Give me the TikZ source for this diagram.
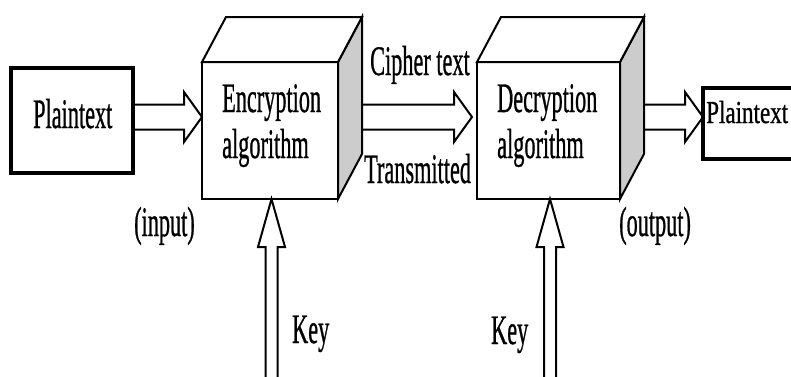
\documentclass[tikz,border=0pt]{standalone}
\usepackage{fontspec}
\setmainfont[FakeBold=1]{Liberation Serif}
\usetikzlibrary{calc}
% condensed text
\newcommand\narrow[2][0.53]{\scalebox{#1}[1]{#2}}
% hollow block arrow, horizontal: #1 tail, #2 tip
\newcommand\blockarrow[2]{%
  \draw[hollow] ($(#1)+(0,12.5)$) -- ($(#2)+(-18,12.5)$) -- ($(#2)+(-18,25)$) -- (#2)
    -- ($(#2)+(-18,-25)$) -- ($(#2)+(-18,-12.5)$) -- ($(#1)+(0,-12.5)$);}
% hollow block arrow, vertical (pointing up): #1 tip, #2 tail
\newcommand\keyarrow[2]{%
  \draw[hollow] ($(#2)+(-6,0)$) -- ($(#1)+(-6,48)$) -- ($(#1)+(-13.5,48)$) -- (#1)
    -- ($(#1)+(13.5,48)$) -- ($(#1)+(6,48)$) -- ($(#2)+(6,0)$);}
\begin{document}
\begin{tikzpicture}[x=1bp,y=-1bp,line join=miter,
  face/.style={draw, line width=2bp, fill=white, inner sep=0pt, outer sep=0pt,
    minimum width=136bp, minimum height=137bp},
  side/.style={draw, line width=2bp, fill=#1},
  ptbox/.style={draw, line width=3.5bp, inner sep=0pt, outer sep=0pt},
  lbl/.style={inner sep=0pt, anchor=base west, font=\fontsize{42bp}{46bp}\selectfont},
  hollow/.style={draw, line width=2bp}]
\useasboundingbox (0,0) rectangle (791,376);
\clip (0,0) rectangle (791,376);

% boxes
\node[ptbox, minimum width=122bp, minimum height=105bp] (src) at (72,120.5) {};
\node[face] (enc) at (270,130.5) {};
\node[face, minimum width=143bp] (dec) at (548.5,130.5) {};
\node[ptbox, minimum width=117bp, minimum height=71bp] (dst) at (761.5,123.5) {};

% cube sides
\draw[side=gray!40] (enc.north east) -- ++(24,-45) -- ++(0,137) -- (enc.south east) -- cycle;
\draw[side=white] (enc.north west) -- ++(24,-45) -- ++(136,0) -- (enc.north east) -- cycle;
\draw[side=gray!40] (dec.north east) -- ++(24,-45) -- ++(0,137) -- (dec.south east) -- cycle;
\draw[side=white] (dec.north west) -- ++(24,-45) -- ++(143,0) -- (dec.north east) -- cycle;

% helper coordinates
\coordinate (row) at (0,117);
\coordinate (bottom) at (0,390);
\coordinate (encback) at ($(enc.north east)+(24,0)$);
\coordinate (decback) at ($(dec.north east)+(24,0)$);
\coordinate (a1s) at (src.east |- row);
\coordinate (a1t) at (enc.west |- row);
\coordinate (a2s) at (encback |- row);
\coordinate (a2t) at ($(dec.west |- row)+(-5,0)$);
\coordinate (a3s) at (decback |- row);
\coordinate (a3t) at (dst.west |- row);
\coordinate (k1t) at ($(enc.south)+(1.5,0)$);
\coordinate (k1s) at (k1t |- bottom);
\coordinate (k2t) at ($(dec.south)+(1.5,0)$);
\coordinate (k2s) at (k2t |- bottom);

% arrows
\blockarrow{a1s}{a1t}
\blockarrow{a2s}{a2t}
\blockarrow{a3s}{a3t}
\keyarrow{k1t}{k1s}
\keyarrow{k2t}{k2s}

% labels
\node[lbl] (srcT) at (33,128) {\narrow{Plaintext}};
\node[lbl] (encT1) at (222,112) {\narrow{Encryption}};
\node[lbl] (encT2) at (222,158) {\narrow{algorithm}};
\node[lbl] (decT1) at (497,112) {\narrow{Decryption}};
\node[lbl] (decT2) at (497,158) {\narrow{algorithm}};
\node[lbl] (ct) at (370,75) {\narrow{Cipher text}};
\node[lbl] (tr) at (364,183) {\narrow{Transmitted}};
\node[lbl] (inp) at (134,236) {\narrow{(input)}};
\node[lbl] (outp) at (619,236) {\narrow{(output)}};
\node[lbl] (key1) at (292,343) {\narrow{Key}};
\node[lbl] (key2) at (491,344) {\narrow{Key}};
\node[lbl, font=\fontsize{32bp}{36bp}\selectfont] (dstT) at (706,123) {\narrow[0.72]{Plaintext}};
\end{tikzpicture}
\end{document}
